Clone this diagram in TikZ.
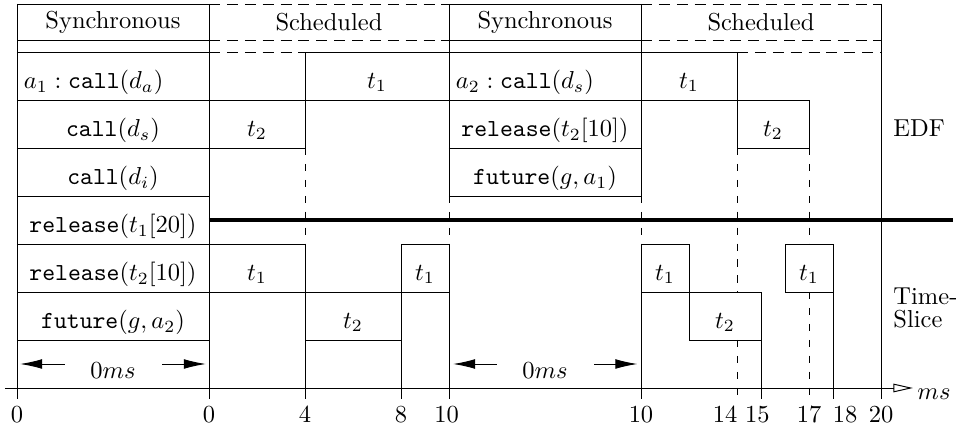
\documentclass[tikz,border=0pt]{standalone}
\usepackage{amsmath,amssymb}
\usepackage{tikz}
\usetikzlibrary{arrows.meta}

\begin{document}
\begin{tikzpicture}[x=0.3443cm, y=0.3443cm,
    sched/.style={dash pattern=on 4.5pt off 2.8pt},
    guide/.style={dash pattern=on 3pt off 3.5pt},
    lbl/.style={inner sep=0pt, yshift=-2.6pt},
    lft/.style={anchor=west, inner sep=0pt, xshift=2.6pt, yshift=-2.6pt},
    dimarr/.style={-{Latex[length=9pt,width=4pt]}},
    sep/.style={line width=1.6pt}]
    \useasboundingbox (-0.708,-1.75) rectangle (39.25,16.167);
    % headers
    \draw (0,16) rectangle (8,14.5);
    \draw (18,16) rectangle (26,14.5);
    \draw[sched] (8,16) -- (18,16) (8,14.5) -- (18,14.5) (8,14) -- (12,14);
    \draw[sched] (26,16) -- (36,16) (26,14.5) -- (36,14.5) (30,14) -- (36,14);
    \node (hs1) at (4,15.25) {Synchronous};
    \node (hd1) at (13,15.25) {Scheduled};
    \node (hs2) at (22,15.25) {Synchronous};
    \node (hd2) at (31,15.25) {Scheduled};
    % synchronous parts
    \draw (0,16) -- (0,-0.46) (8,16) -- (8,-0.46);
    \foreach \y in {14,12,10,8,6,4,2} \draw (0,\y) -- (8,\y);
    \draw (18,16) -- (18,8) (26,16) -- (26,8);
    \draw[guide] (18,8) -- (18,6) (26,8) -- (26,6);
    \draw (18,6) -- (18,-0.46) (26,6) -- (26,-0.46);
    \foreach \y in {14,12,10,8} \draw (18,\y) -- (26,\y);
    \node[lft] (c1) at (0,13) {$a_1:\texttt{call}(d_a)$};
    \node[lbl] (c2) at (4,11) {\texttt{call}$(d_s)$};
    \node[lbl] (c3) at (4,9) {\texttt{call}$(d_i)$};
    \node[lbl] (c4) at (4,7) {\texttt{release}$(t_1[20])$};
    \node[lbl] (c5) at (4,5) {\texttt{release}$(t_2[10])$};
    \node[lbl] (c6) at (4,3) {\texttt{future}$(g,a_2)$};
    \node[lft] (d1) at (18,13) {$a_2:\texttt{call}(d_s)$};
    \node[lbl] (d2) at (22,11) {\texttt{release}$(t_2[10])$};
    \node[lbl] (d3) at (22,9) {\texttt{future}$(g,a_1)$};
    % zero length
    \node[lbl] (z1) at (4,1) {$0ms$};
    \node[lbl] (z2) at (22,1) {$0ms$};
    \coordinate (z1a) at (2,1);    \coordinate (z1b) at (0.13,1);
    \coordinate (z1c) at (6.05,1); \coordinate (z1d) at (7.87,1);
    \coordinate (z2a) at (20,1);   \coordinate (z2b) at (18.17,1);
    \coordinate (z2c) at (24.05,1);\coordinate (z2d) at (25.85,1);
    \draw[dimarr] (z1a) -- (z1b);
    \draw[dimarr] (z1c) -- (z1d);
    \draw[dimarr] (z2a) -- (z2b);
    \draw[dimarr] (z2c) -- (z2d);
    % EDF
    \draw (12,12) rectangle (18,14) (8,10) rectangle (12,12);
    \draw (26,12) rectangle (30,14) (30,10) rectangle (33,12);
    \node[lbl] (e1) at (15,13) {$t_1$};
    \node[lbl] (e2) at (10,11) {$t_2$};
    \node[lbl] (e3) at (28,13) {$t_1$};
    \node[lbl] (e4) at (31.5,11) {$t_2$};
    \draw[guide] (12,10) -- (12,6) (30,10) -- (30,4) (30,2) -- (30,-0.46)
        (33,10) -- (33,6) (33,4) -- (33,-0.46);
    \draw[sep] (8,7) -- (39,7);
    % time slice
    \draw (8,4) rectangle (12,6) (12,2) rectangle (16,4) (16,4) rectangle (18,6);
    \draw (26,4) rectangle (28,6) (28,2) rectangle (31,4) (32,4) rectangle (34,6);
    \draw (12,2) -- (12,-0.46) (16,2) -- (16,-0.46) (31,2) -- (31,-0.46)
        (34,4) -- (34,-0.46) (36,16) -- (36,-0.46);
    \node[lbl] (s1) at (10,5) {$t_1$};
    \node[lbl] (s2) at (14,3) {$t_2$};
    \node[lbl] (s3) at (17,5) {$t_1$};
    \node[lbl] (s4) at (27,5) {$t_1$};
    \node[lbl] (s5) at (29.5,3) {$t_2$};
    \node[lbl] (s6) at (33,5) {$t_1$};
    \node[anchor=west, inner sep=0pt] (edf) at (36.5,10.83) {EDF};
    \node[anchor=west, inner sep=0pt, align=left] (ts) at (36.5,3.33) {Time-\\[-2.5pt]Slice};
    % axis
    \coordinate (ax0) at (-0.5,0);
    \coordinate (ax1) at (37.33,0);
    \draw[-{Triangle[open,length=8pt,width=3.5pt]}] (ax0) -- (ax1);
    \node[anchor=north west, inner sep=0pt] (msl) at (37.5,0) {$ms$};
    \foreach \x/\t in {0/0,8/0,12/4,16/8,17.9/10,26/10,29.5/14,30.85/15,33/17,34.5/18,36/20}
        \node (tk\t) at (\x,-1.12) {$\t$};
\end{tikzpicture}
\end{document}
